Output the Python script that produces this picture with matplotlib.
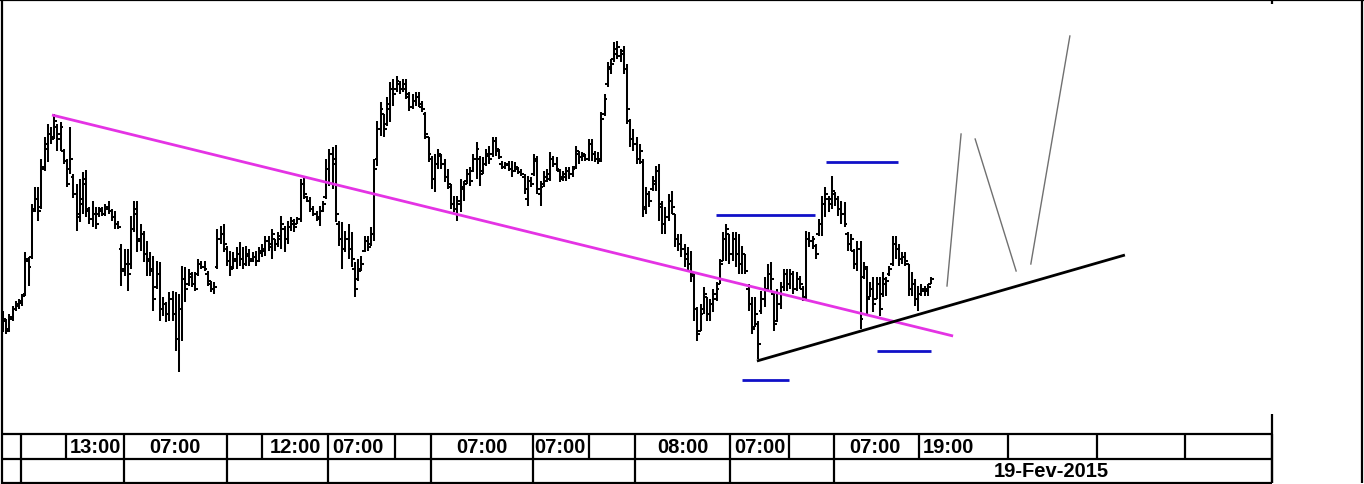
import numpy as np
import matplotlib
matplotlib.use("Agg")
import matplotlib.pyplot as plt
from matplotlib.collections import LineCollection

# ---------------- data (arbitrary price units) ----------------
highs = [128,120,125,133,138,140,145,187,182,235,
         252,252,280,302,315,312,325,315,317,290,
         280,312,265,255,260,267,269,232,238,232,
         232,232,235,238,230,228,218,195,190,190,
         223,238,238,215,208,198,187,183,178,177,
         142,137,147,148,147,145,173,172,170,167,167,
         180,178,178,168,158,157,
         210,213,215,193,188,187,192,197,192,193,190,187,
         188,192,195,203,203,210,200,207,223,213,218,222,220,222,
         260,262,243,
         242,233,228,233,238,280,290,292,294,218,217,208,215,207,177,180,183,203,203,212,280,318,337,325,342,357,360,363,358,360,
         360,347,345,
         347,347,
         338,327,302,283,285,290,285,280,270,255,243,243,260,258,270,272,285,297,283,282,290,293,302,302,
         290,278,277,
         278,278,277,272,270,265,
         263,262,285,283,
         258,268,
         270,
         287,283,282,270,268,272,272,273,293,288,287,285,300,300,288,287,327,345,
         377,380,
         397,
         398,
         390,
         393,375,320,310,302,295,
         280,252,248,
         263,273,275,238,232,245,248,225,205,205,195,
         192,188,
         165,132,135,
         152,142,140,
         150,
         157,180,207,215,205,207,207,205,193,185,155,142,142,118,
         148,162,175,177,
         148,150,157,
         170,170,170,168,167,163,153,
         208,207,203,
         195,220,243,252,243,
         263,247,243,238,237,207,205,190,198,198,177,173,157,162,162,162,167,162,
         173,203,203,195,187,187,175,167,160,153,155,
         153,
         155,162]
lows = [107,105,107,118,128,130,133,143,153,180,
        227,218,230,268,277,295,300,288,288,275,
        252,265,241,208,217,225,222,215,212,210,
        222,223,223,225,218,210,210,153,163,148,
        170,207,187,188,177,163,163,128,150,118,
        123,117,118,118,88,67,98,137,153,152,148,
        163,170,168,153,147,145,
        170,195,187,173,163,170,170,173,170,173,173,177,
        173,177,182,183,188,180,188,192,190,187,195,208,207,215,
        217,240,237,
        227,223,218,213,227,240,253,250,217,193,170,187,180,172,142,158,168,187,188,193,198,273,303,302,313,317,333,347,345,347,
        340,328,330,
        333,332,
        327,300,277,250,247,270,270,257,250,230,227,218,227,238,255,253,267,260,253,265,273,275,282,283,
        280,270,270,
        268,262,267,265,263,245,
        233,252,263,245,
        233,252,
        257,
        258,272,268,257,258,258,260,262,270,275,278,278,278,278,277,275,277,323,
        352,365,
        377,
        380,
        377,
        365,315,292,288,275,275,
        222,225,232,
        248,248,218,205,205,218,225,192,188,182,172,
        168,157,
        118,98,108,
        125,118,118,
        127,
        138,155,178,178,175,178,172,165,165,165,128,105,112,80,
        125,132,148,147,
        108,117,130,
        148,148,150,145,148,150,138,
        140,192,190,
        180,203,203,222,227,
        230,233,223,215,212,188,188,170,168,110,160,123,142,127,140,123,142,143,
        163,173,180,173,175,173,143,143,133,128,143,
        143,
        143,155]
opens = [110,118,110,120,130,133,136,145,178,182,
         230,240,232,270,290,305,302,312,300,288,
         278,270,262,245,222,235,260,228,220,225,
         225,228,225,230,228,222,215,190,168,175,
         175,210,230,198,205,185,178,170,152,165,
         130,135,125,140,125,100,130,160,155,162,155,
         165,175,172,165,155,150,
         172,200,205,190,178,172,178,185,180,175,183,180,
         182,178,186,188,198,192,200,195,200,210,200,212,215,215,
         220,255,242,
         238,230,225,220,228,242,270,285,280,215,200,190,200,190,170,160,168,188,198,195,205,280,310,325,315,330,350,350,355,350,
         350,342,332,
         338,342,
         332,325,302,280,260,275,283,275,262,252,235,230,235,250,258,265,268,280,280,268,275,283,285,298,
         288,275,272,
         274,270,268,270,267,262,
         240,258,265,278,
         245,255,
         258,
         260,280,275,268,262,262,268,265,272,285,282,283,280,295,285,280,280,325,
         355,370,
         380,
         385,
         383,
         388,370,318,300,295,280,
         277,232,245,
         250,255,268,232,215,222,238,225,200,195,190,
         185,175,
         163,130,108,
         130,142,125,
         135,
         140,155,178,200,205,185,200,185,175,185,150,135,112,115,
         128,140,150,165,
         145,118,135,
         152,165,155,165,150,160,150,
         142,200,198,
         193,205,215,235,240,
         240,245,240,230,225,205,195,188,175,190,162,170,142,150,140,155,145,155,
         165,175,195,190,180,182,175,150,155,140,145,
         150,
         150,155]
closes = [120,108,122,130,135,138,143,180,172,228,
          240,228,272,295,305,300,318,305,312,278,
          255,280,245,225,240,255,230,220,225,215,
          230,225,232,228,222,215,212,170,175,165,
          210,225,200,205,185,180,168,140,165,130,
          135,125,140,125,100,130,160,150,165,155,150,
          175,172,170,158,150,152,
          200,205,195,178,170,180,185,180,175,185,178,182,
          178,188,190,198,195,205,195,203,215,200,212,218,212,220,
          255,245,238,
          230,225,222,228,235,270,285,275,225,200,190,200,190,180,150,170,175,198,192,205,270,310,330,310,335,350,345,358,350,355,
          345,332,338,
          342,335,
          330,305,285,260,275,285,275,262,255,235,230,238,252,255,265,258,280,290,265,275,285,280,298,290,
          282,272,275,
          270,268,272,267,265,250,
          258,255,280,250,
          252,262,
          265,
          280,275,270,260,265,268,265,270,288,282,285,280,295,285,280,278,320,340,
          372,375,
          390,
          392,
          385,
          370,330,300,295,280,288,
          230,245,238,
          258,268,235,215,222,238,232,200,195,190,180,
          175,165,
          130,105,125,
          145,125,135,
          145,
          150,175,200,210,185,200,185,175,185,168,135,110,125,95,
          140,150,165,160,
          115,135,145,
          165,155,165,150,160,155,142,
          200,198,200,
          185,215,235,245,235,
          248,240,230,225,215,195,200,175,190,120,172,140,150,135,155,130,160,158,
          170,195,190,180,182,178,150,155,140,145,148,
          148,
          152,160]

# annotation lines: (bar index, price) endpoints
magenta_line = [(15.3, 324), (296.9, 103)]
support_line = [(235.6, 78), (350.6, 184)]
blue_levels = [((222.8, 253.8), 224.5), ((257.2, 279.7), 277), ((230.9, 245.6), 59), ((273.1, 290.0), 88)]
projection = [[(295.0, 153), (299.4, 305)], [(303.8, 300), (316.6, 168)], [(321.2, 175), (333.4, 403)]]

# bottom time axis
row1_edges = [21, 66, 124, 227, 262, 328, 395, 431, 533, 589, 635, 730, 789, 834, 919, 1008, 1097, 1185, 1272]
row2_edges = [21, 124, 227, 328, 431, 533, 635, 730, 834, 1272]
time_labels = ["13:00", "07:00", "12:00", "07:00", "07:00", "07:00", "08:00", "07:00", "07:00", "19:00"]
time_label_x = [95, 175, 295, 358, 482, 560, 683, 760, 875, 948]
date_label = "19-Fev-2015"
date_label_x = 1051

# ---------------- figure ----------------
W, H = 1364, 485
fig = plt.figure(figsize=(W / 100, H / 100), dpi=100)
fig.patch.set_facecolor("white")

ov = fig.add_axes([0, 0, 1, 1], zorder=0)
ov.set_xlim(0, W)
ov.set_ylim(H, 0)
ov.axis("off")

ax = fig.add_axes([2 / W, (H - 435) / H, 1360 / W, 434 / H], zorder=1)
ax.patch.set_alpha(0)
for s in ax.spines.values():
    s.set_visible(False)
ax.set_xticks([])
ax.set_yticks([])

n = len(highs)
x = np.arange(n)
h = np.array(highs, float)
l = np.array(lows, float)
o = np.clip(np.array(opens, float), l, h)
c = np.clip(np.array(closes, float), l, h)

tick = 0.9
segs = []
for i in range(n):
    segs.append([(x[i], l[i]), (x[i], h[i])])
    segs.append([(x[i] - tick, o[i]), (x[i], o[i])])
    segs.append([(x[i], c[i]), (x[i] + tick, c[i])])
ax.add_collection(LineCollection(segs, colors="black", linewidths=1.45))

ax.plot(*zip(*magenta_line), color="#e433e4", lw=2.0, solid_capstyle="butt")
ax.plot(*zip(*support_line), color="black", lw=2.0, solid_capstyle="butt")
for (x0, x1), y in blue_levels:
    ax.plot([x0, x1], [y, y], color="#1010c8", lw=2.0, solid_capstyle="butt")
for seg in projection:
    ax.plot(*zip(*seg), color="#707070", lw=1.0)

ax.set_xlim(-0.3125, 424.69)
ax.set_ylim(5, 439)

# frame
k = dict(color="black", lw=1.6, solid_capstyle="butt")
ov.plot([0, W], [1, 1], **k)
ov.plot([2, 2], [0, H], **k)
ov.plot([1362, 1362], [0, 484], **k)
ov.plot([2, 1272], [435, 435], **k)
ov.plot([2, 1272], [460, 460], **k)
ov.plot([2, 1272], [484, 484], **k)
ov.plot([1272, 1272], [0, 5], **k)
ov.plot([1272, 1272], [415, 484], **k)
for e in row1_edges:
    ov.plot([e, e], [435, 460], **k)
for e in row2_edges:
    ov.plot([e, e], [460, 484], **k)

font = dict(family=["Liberation Sans", "DejaVu Sans"], weight="bold", fontsize=14.5)
for lab, xx in zip(time_labels, time_label_x):
    ov.text(xx, 447.5, lab, ha="center", va="center", **font)
ov.text(date_label_x, 472, date_label, ha="center", va="center", **font)

fig.savefig("out.png", dpi=100)
